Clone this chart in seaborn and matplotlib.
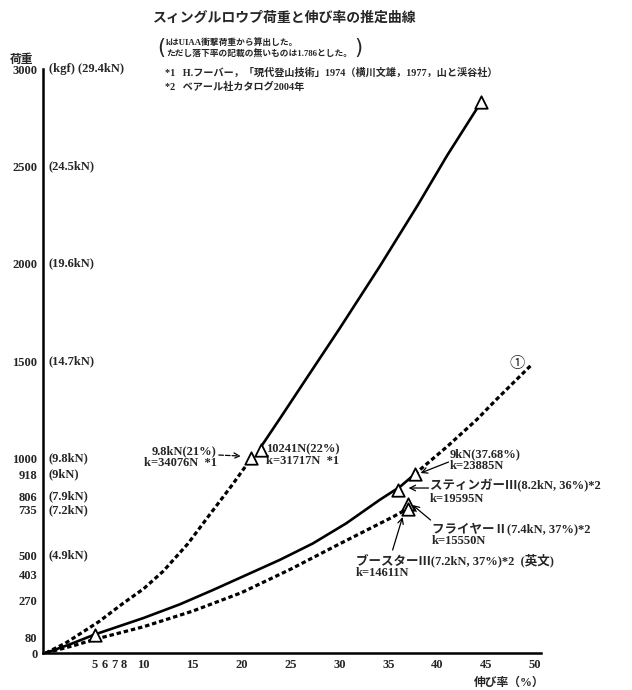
import matplotlib
matplotlib.use("Agg")
import matplotlib.pyplot as plt
import seaborn as sns
import pandas as pd

# ---------------- data ----------------
title = "スィングルロウプ荷重と伸び率の推定曲線"
note_lines = ["kはUIAA衝撃荷重から算出した。", "ただし落下率の記載の無いものは1.786とした。"]
ref1 = "*1   H.フーバー，「現代登山技術」1974（横川文雄，1977，山と渓谷社）"
ref2 = "*2   ベアール社カタログ2004年"
y_title = "荷重"
x_title = "伸び率（%）"

# curves (elongation %, load kgf)
steep_x = [0, 2, 5.4, 7.9, 10, 12, 14.5, 17.1, 19, 21]
steep_y = [0, 50, 160, 255, 330, 420, 560, 734, 860, 1000]
upper_x = [22, 24, 26.5, 30, 34.1, 38, 41, 44.5]
upper_y = [1060, 1210, 1400, 1665, 1984, 2300, 2555, 2832]
lower_x = [0, 2.5, 5, 10, 13.7, 17.1, 20.5, 23.9, 27.3, 30.7, 34.1, 36.2, 37.68]
lower_y = [0, 45, 95, 180, 250, 324, 401, 478, 563, 666, 786, 854, 918]
ext_x = [37.68, 41, 44, 46, 49.6]
ext_y = [918, 1060, 1197, 1300, 1479]
dot2_x = [0, 3, 5, 10, 15, 20, 25, 30, 35.5, 37]
dot2_y = [0, 40, 70, 135, 215, 310, 430, 560, 700, 742]

# triangle points
tri_x = [5, 21, 22, 37.68, 36, 37, 37, 44.5]
tri_y = [90, 1000, 1044, 918, 836, 765, 742, 2832]

# axis ticks
yticks = [0, 80, 270, 403, 500, 735, 806, 918, 1000, 1500, 2000, 2500, 3000]
ytick_labels = ["0", "80", "270", "403", "500", "735", "806", "918", "1000", "1500", "2000", "2500", "3000"]
kn_labels = ["", "", "", "", "(4.9kN)", "(7.2kN)", "(7.9kN)", "(9kN)", "(9.8kN)",
             "(14.7kN)", "(19.6kN)", "(24.5kN)", "(kgf) (29.4kN)"]
xticks = [5, 6, 7, 8, 10, 15, 20, 25, 30, 35, 40, 45, 50]
xtick_labels = ["5", "6", "7", "8", "10", "15", "20", "25", "30", "35", "40", "45", "50"]

ann_texts = ["9.8kN(21%)\nk=34076N  *1",
             "10241N(22%)\nk=31717N  *1",
             "9kN(37.68%)\nk=23885N",
             "スティンガーⅢ(8.2kN, 36%)*2\nk=19595N",
             "フライヤーⅡ(7.4kN, 37%)*2\nk=15550N",
             "ブースターⅢ(7.2kN, 37%)*2  (英文)\nk=14611N"]

# ---------------- plotting ----------------
sns.set_style("white")
FONTS = ["Liberation Serif", "Noto Sans CJK JP", "DejaVu Sans"]
plt.rcParams["font.family"] = FONTS
plt.rcParams["axes.unicode_minus"] = False

fig = plt.figure(figsize=(6.32, 6.90), dpi=100)
ax = fig.add_axes([43 / 632, 1 - 653 / 690, (541 - 43) / 632, (653 - 69) / 690])

dot_style = (0, (1.4, 0.9))
lw_solid = 1.9
lw_dot = 2.3

def curve(xs, ys, ls, lw):
    df = pd.DataFrame({"x": xs, "y": ys})
    sns.lineplot(data=df, x="x", y="y", ax=ax, color="black", linestyle=ls,
                 linewidth=lw, sort=False, estimator=None)

curve(steep_x, steep_y, dot_style, lw_dot)
curve(upper_x, upper_y, "-", lw_solid)
curve(lower_x, lower_y, "-", lw_solid)
curve(ext_x, ext_y, dot_style, lw_dot)
curve(dot2_x, dot2_y, dot_style, lw_dot)

sns.scatterplot(x=tri_x, y=tri_y, ax=ax, marker="^", s=80, facecolor="white",
                edgecolor="black", linewidth=1.3, zorder=5)

ax.set_xlim(-0.28, 50.6)
ax.set_ylim(0, 3000)
ax.set_xlabel("")
ax.set_ylabel("")

ax.set_yticks(yticks)
ax.set_yticklabels(ytick_labels, fontsize=9, fontweight="bold")
ax.set_xticks(xticks)
ax.set_xticklabels(xtick_labels, fontsize=9, fontweight="bold")
ax.tick_params(axis="both", direction="in", length=4, width=1.2, color="black", pad=4)

for s in ["top", "right"]:
    ax.spines[s].set_visible(False)
for s in ["left", "bottom"]:
    ax.spines[s].set_linewidth(1.8)
    ax.spines[s].set_color("black")

for v, lab in zip(yticks, kn_labels):
    if lab:
        ax.annotate(lab, xy=(0, v), xycoords=ax.get_yaxis_transform(),
                    xytext=(4, 0), textcoords="offset points",
                    ha="left", va="center", fontsize=9, fontweight="bold")

def px2data(px, py):
    return ((px - 45.7) / 9.8, (653 - py) / 0.1947)

text_pos = [(217, 457, "right"), (266, 455, "left"), (450, 460, "left"),
            (430, 492, "left"), (432, 535, "left"), (356, 566, "left")]
for t, (px, py, ha) in zip(ann_texts, text_pos):
    x, y = px2data(px, py)
    ax.text(x, y, t, ha=ha, va="center", fontsize=9, fontweight="bold",
            linespacing=1.0)

arrows = [((219, 455), (241, 456), "--"),
          ((449, 462), (421, 473), "-"),
          ((429, 488), (409, 488), "-"),
          ((431, 520), (413, 505), "-"),
          ((393, 550), (403, 517), "-")]
for (t, h, ls) in arrows:
    ax.annotate("", xy=px2data(*h), xytext=px2data(*t),
                arrowprops=dict(arrowstyle="->", color="black", lw=0.9,
                                linestyle=ls, shrinkA=0, shrinkB=0))

x1, y1 = px2data(518, 363)
ax.text(x1, y1, "①", ha="center", va="center", fontsize=11,
        family=["Noto Sans CJK JP", "DejaVu Sans"])

fig.text(285 / 632, 1 - 18 / 690, title, ha="center", va="center",
         fontsize=10, fontweight="bold")
fig.text(166 / 632, 1 - 43 / 690, note_lines[0], ha="left", va="center", fontsize=6.3, fontweight="bold")
fig.text(166 / 632, 1 - 54 / 690, note_lines[1], ha="left", va="center", fontsize=6.3, fontweight="bold")
fig.text(161 / 632, 1 - 48 / 690, "(", ha="center", va="center", fontsize=15,
         family=["DejaVu Sans"])
fig.text(358 / 632, 1 - 48 / 690, ")", ha="center", va="center", fontsize=15,
         family=["DejaVu Sans"])
fig.text(165 / 632, 1 - 73 / 690, ref1, ha="left", va="center", fontsize=7.3, fontweight="bold")
fig.text(165 / 632, 1 - 87 / 690, ref2, ha="left", va="center", fontsize=7.3, fontweight="bold")
fig.text(10 / 632, 1 - 60 / 690, y_title, ha="left", va="center", fontsize=8.5, fontweight="bold")
fig.text(545 / 632, 1 - 683 / 690, x_title, ha="right", va="center", fontsize=8.5, fontweight="bold")

fig.savefig("out.png", dpi=100, facecolor="white")
